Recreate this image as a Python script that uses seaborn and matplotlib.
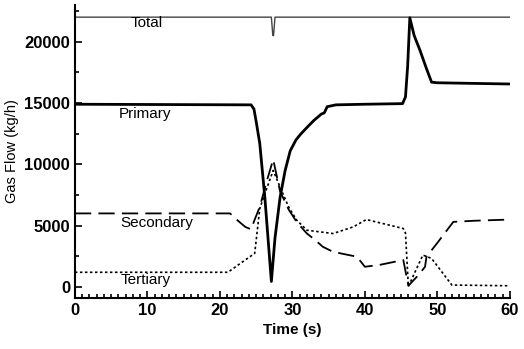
import numpy as np
import pandas as pd
import seaborn as sns
import matplotlib.pyplot as plt
from matplotlib.ticker import MultipleLocator

# Total
t_total = [0, 27.1, 27.3, 27.4, 27.6, 60]
total = [22000, 22000, 20500, 20500, 22000, 22000]

# Primary
t_prim = [0, 24.3, 24.7, 25.0, 25.5, 26.2, 26.7, 27.1, 27.6, 28.3, 29.0, 29.7, 30.5,
          31.2, 32.0, 33.0, 34.0, 34.4, 34.8, 36, 40, 45.2, 45.6, 45.9, 46.2, 46.8,
          47.6, 48.5, 49.2, 50, 55, 60]
primary = [14900, 14850, 14500, 13500, 11700, 7300, 3500, 450, 4000, 7300, 9500, 11100,
           12000, 12500, 13000, 13600, 14100, 14200, 14700, 14850, 14900, 14950, 15500,
           18000, 21950, 20500, 19300, 17800, 16700, 16650, 16600, 16550]

# Secondary
t_sec = [0, 21.4, 22.5, 23.5, 24.3, 24.8, 25.5, 26.5, 27.35, 28.3, 29.5, 30.6, 32, 33,
         34.2, 35.6, 37, 38.9, 40.0, 42, 45.3, 46.0, 47.4, 48.3, 48.5, 50, 52.2, 55, 60]
secondary = [6000, 6000, 5400, 4900, 4700, 5500, 6530, 8700, 10400, 7800, 6300, 5300,
             4360, 3900, 3280, 2870, 2700, 2470, 1650, 1800, 2200, 100, 980, 1650, 2470,
             3600, 5310, 5400, 5500]

# Tertiary
t_ter = [0, 21.1, 23, 24.8, 25.5, 26.2, 27.35, 28.3, 29.5, 30.6, 32, 35.6, 38.4, 40.2,
         45.3, 45.6, 46.0, 48.0, 49.2, 52.0, 60]
tertiary = [1200, 1200, 2000, 2740, 6400, 7600, 9500, 8150, 6500, 5450, 4630, 4360, 4900,
            5500, 4770, 4400, 50, 2600, 2330, 160, 100]

labels = ["Total", "Primary", "Secondary", "Tertiary"]
label_x = [9.9, 9.7, 11.3, 9.7]
label_y = [21500, 14100, 5250, 550]

sns.set_style("ticks")
plt.rcParams['font.family'] = ['Liberation Sans', 'DejaVu Sans']
for key in ["text.color", "axes.labelcolor", "xtick.color", "ytick.color", "axes.edgecolor"]:
    plt.rcParams[key] = "black"

fig = plt.figure(figsize=(5.24, 3.49), dpi=100)
ax = fig.add_axes([0.143, 0.146, 0.830, 0.840])

sns.lineplot(x=t_total, y=total, ax=ax, color="#444444", linewidth=1.0)
sns.lineplot(x=t_prim, y=primary, ax=ax, color="black", linewidth=2.0)
sns.lineplot(x=t_sec, y=secondary, ax=ax, color="black", linewidth=1.3,
             linestyle=(0, (9, 4)))
sns.lineplot(x=t_ter, y=tertiary, ax=ax, color="black", linewidth=1.2,
             linestyle=(0, (1.5, 1.5)))

for lab, lx, ly in zip(labels, label_x, label_y):
    ax.text(lx, ly, lab, ha="center", va="center", fontsize=11)

ax.set_xlim(0, 60)
ax.set_ylim(-900, 23000)
ax.xaxis.set_major_locator(MultipleLocator(10))
ax.xaxis.set_minor_locator(MultipleLocator(1))
ax.yaxis.set_major_locator(MultipleLocator(5000))
ax.yaxis.set_minor_locator(MultipleLocator(2500))
ax.tick_params(which="both", direction="in", width=1.2)
ax.tick_params(which="major", length=5, labelsize=12)
ax.tick_params(which="minor", length=3)
for lbl in ax.get_xticklabels() + ax.get_yticklabels():
    lbl.set_fontweight("bold")
sns.despine(ax=ax)
ax.spines["left"].set_linewidth(1.5)
ax.spines["bottom"].set_linewidth(1.5)

ax.set_xlabel("Time (s)", fontsize=11, fontweight="bold")
ax.set_ylabel("Gas Flow (kg/h)", fontsize=10.5)

fig.savefig("out.png", dpi=100)
